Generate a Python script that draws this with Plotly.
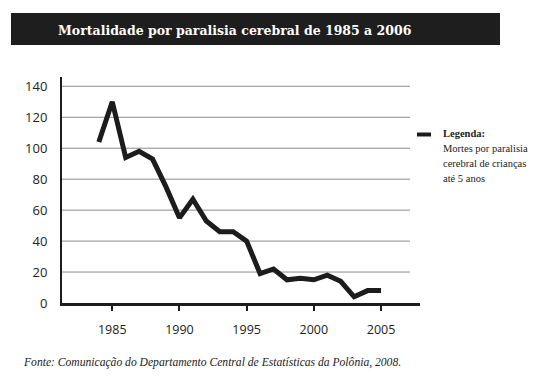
import plotly.graph_objects as go

# ---- data ----
years = list(range(1984, 2006))
deaths = [104, 130, 94, 98, 93, 75, 55, 67, 53, 46, 46, 40, 19, 22, 15, 16, 15, 18, 14, 4, 8, 8]
x_ticks = [1985, 1990, 1995, 2000, 2005]
y_ticks = [0, 20, 40, 60, 80, 100, 120, 140]
title_text = "Mortalidade por paralisia cerebral de 1985 a 2006"
legend_title = "Legenda:"
legend_lines = ["Mortes por paralisia", "cerebral de crianças", "até 5 anos"]
source_text = "Fonte: Comunicação do Departamento Central de Estatísticas da Polônia, 2008."

# ---- layout geometry (pixels in the page; the page body adds an 8px offset) ----
OFF = 8
W, H = 551 - 2 * OFF, 389 - 2 * OFF
L, R, T, B = 62 - OFF, 420 - OFF, 77 - OFF, 303 - OFF

def px(x):
    return (x - OFF - L) / (R - L)

def py(y):
    return (B - (y - OFF)) / (B - T)

INK = "#1c1c1c"

fig = go.Figure()
fig.add_trace(go.Scatter(
    x=years, y=deaths, mode="lines",
    line=dict(color=INK, width=5),
    showlegend=False, hoverinfo="skip",
))

shapes = []
# gridlines (end before the right end of the x axis)
for v in y_ticks[1:]:
    shapes.append(dict(type="line", xref="paper", yref="y", x0=0, x1=px(410), y0=v, y1=v,
                       line=dict(color="#8c8c8c", width=1), layer="below"))
# title bar
shapes.append(dict(type="rect", xref="paper", yref="paper", x0=px(11), x1=px(500),
                   y0=py(45), y1=py(13), fillcolor="#1e1e1e", line=dict(width=0), layer="below"))
# legend sample line
shapes.append(dict(type="line", xref="paper", yref="paper", x0=px(417), x1=px(431),
                   y0=py(134.5), y1=py(134.5), line=dict(color=INK, width=4)))

annotations = [
    dict(text="<b>" + title_text + "</b>", xref="paper", yref="paper", x=px(56), y=py(31),
         xanchor="left", yanchor="middle", showarrow=False,
         font=dict(family="DejaVu Serif", size=12.5, color="white")),
    dict(text="<b>" + legend_title + "</b>", xref="paper", yref="paper", x=px(441), y=py(134),
         xanchor="left", yanchor="middle", showarrow=False,
         font=dict(family="Liberation Serif", size=10.5, color="#222")),
    dict(text="<i>" + source_text + "</i>", xref="paper", yref="paper", x=px(21), y=py(362),
         xanchor="left", yanchor="middle", showarrow=False,
         font=dict(family="Liberation Serif", size=11.6, color="#222")),
]
for i, t in enumerate(legend_lines):
    annotations.append(dict(text=t, xref="paper", yref="paper", x=px(441), y=py(148.5 + 14.8 * i),
                            xanchor="left", yanchor="middle", showarrow=False,
                            font=dict(family="Liberation Serif", size=10.5, color="#222")))

fig.update_layout(
    width=W, height=H, autosize=False,
    margin=dict(l=L, r=W - R, t=T, b=H - B, pad=0),
    paper_bgcolor="white", plot_bgcolor="white",
    shapes=shapes, annotations=annotations,
    xaxis=dict(range=[1981.26, 2007.9], tickvals=x_ticks, showgrid=False, zeroline=False,
               showline=True, linewidth=2.5, linecolor=INK,
               ticks="outside", ticklen=5, tickwidth=2, tickcolor=INK,
               ticklabelstandoff=8,
               tickfont=dict(family="Open Sans", size=12.5, color="#222")),
    yaxis=dict(range=[0, 146], tickvals=y_ticks, showgrid=False, zeroline=False,
               showline=True, linewidth=2, linecolor=INK, ticks="",
               ticklabelstandoff=10,
               tickfont=dict(family="Open Sans", size=13, color="#222")),
)

fig.write_html("out.html")
